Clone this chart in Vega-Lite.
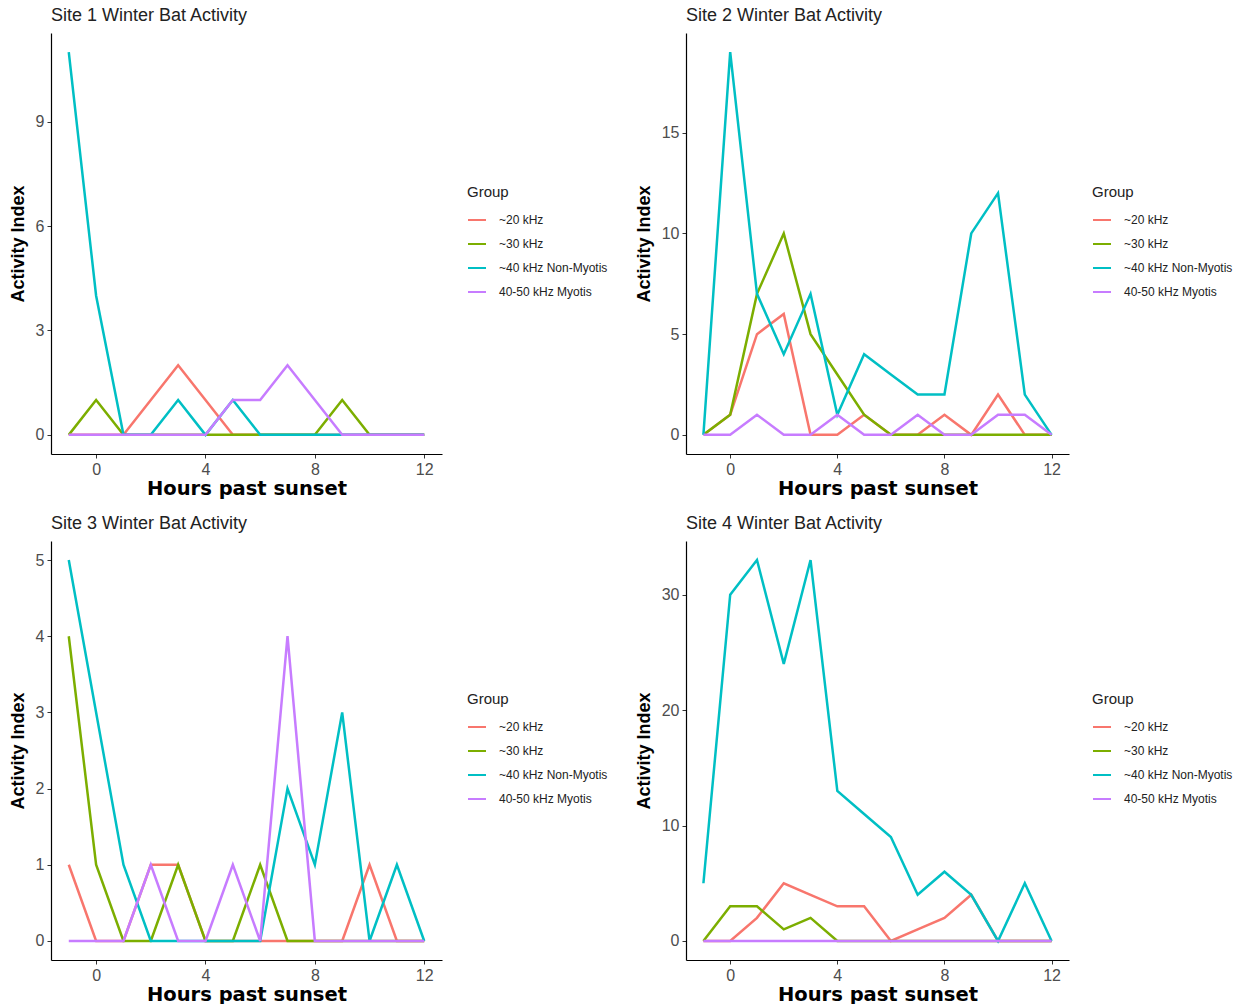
{
  "$schema": "https://vega.github.io/schema/vega-lite/v6.json",
  "background": "white",
  "padding": {"left": 9, "top": 7, "right": 0, "bottom": 0},
  "columns": 2,
  "spacing": {"row": 17, "column": 27},
  "data": {"values": [
    {"site":1,"group":"~20 kHz","hour":-1,"value":0},{"site":1,"group":"~20 kHz","hour":0,"value":0},{"site":1,"group":"~20 kHz","hour":1,"value":0},{"site":1,"group":"~20 kHz","hour":2,"value":1},{"site":1,"group":"~20 kHz","hour":3,"value":2},{"site":1,"group":"~20 kHz","hour":4,"value":1},{"site":1,"group":"~20 kHz","hour":5,"value":0},{"site":1,"group":"~20 kHz","hour":6,"value":0},{"site":1,"group":"~20 kHz","hour":7,"value":0},{"site":1,"group":"~20 kHz","hour":8,"value":0},{"site":1,"group":"~20 kHz","hour":9,"value":0},{"site":1,"group":"~20 kHz","hour":10,"value":0},{"site":1,"group":"~20 kHz","hour":11,"value":0},{"site":1,"group":"~20 kHz","hour":12,"value":0},
    {"site":1,"group":"~30 kHz","hour":-1,"value":0},{"site":1,"group":"~30 kHz","hour":0,"value":1},{"site":1,"group":"~30 kHz","hour":1,"value":0},{"site":1,"group":"~30 kHz","hour":2,"value":0},{"site":1,"group":"~30 kHz","hour":3,"value":0},{"site":1,"group":"~30 kHz","hour":4,"value":0},{"site":1,"group":"~30 kHz","hour":5,"value":0},{"site":1,"group":"~30 kHz","hour":6,"value":0},{"site":1,"group":"~30 kHz","hour":7,"value":0},{"site":1,"group":"~30 kHz","hour":8,"value":0},{"site":1,"group":"~30 kHz","hour":9,"value":1},{"site":1,"group":"~30 kHz","hour":10,"value":0},{"site":1,"group":"~30 kHz","hour":11,"value":0},{"site":1,"group":"~30 kHz","hour":12,"value":0},
    {"site":1,"group":"~40 kHz Non-Myotis","hour":-1,"value":11},{"site":1,"group":"~40 kHz Non-Myotis","hour":0,"value":4},{"site":1,"group":"~40 kHz Non-Myotis","hour":1,"value":0},{"site":1,"group":"~40 kHz Non-Myotis","hour":2,"value":0},{"site":1,"group":"~40 kHz Non-Myotis","hour":3,"value":1},{"site":1,"group":"~40 kHz Non-Myotis","hour":4,"value":0},{"site":1,"group":"~40 kHz Non-Myotis","hour":5,"value":1},{"site":1,"group":"~40 kHz Non-Myotis","hour":6,"value":0},{"site":1,"group":"~40 kHz Non-Myotis","hour":7,"value":0},{"site":1,"group":"~40 kHz Non-Myotis","hour":8,"value":0},{"site":1,"group":"~40 kHz Non-Myotis","hour":9,"value":0},{"site":1,"group":"~40 kHz Non-Myotis","hour":10,"value":0},{"site":1,"group":"~40 kHz Non-Myotis","hour":11,"value":0},{"site":1,"group":"~40 kHz Non-Myotis","hour":12,"value":0},
    {"site":1,"group":"40-50 kHz Myotis","hour":-1,"value":0},{"site":1,"group":"40-50 kHz Myotis","hour":0,"value":0},{"site":1,"group":"40-50 kHz Myotis","hour":1,"value":0},{"site":1,"group":"40-50 kHz Myotis","hour":2,"value":0},{"site":1,"group":"40-50 kHz Myotis","hour":3,"value":0},{"site":1,"group":"40-50 kHz Myotis","hour":4,"value":0},{"site":1,"group":"40-50 kHz Myotis","hour":5,"value":1},{"site":1,"group":"40-50 kHz Myotis","hour":6,"value":1},{"site":1,"group":"40-50 kHz Myotis","hour":7,"value":2},{"site":1,"group":"40-50 kHz Myotis","hour":8,"value":1},{"site":1,"group":"40-50 kHz Myotis","hour":9,"value":0},{"site":1,"group":"40-50 kHz Myotis","hour":10,"value":0},{"site":1,"group":"40-50 kHz Myotis","hour":11,"value":0},{"site":1,"group":"40-50 kHz Myotis","hour":12,"value":0},

    {"site":2,"group":"~20 kHz","hour":-1,"value":0},{"site":2,"group":"~20 kHz","hour":0,"value":1},{"site":2,"group":"~20 kHz","hour":1,"value":5},{"site":2,"group":"~20 kHz","hour":2,"value":6},{"site":2,"group":"~20 kHz","hour":3,"value":0},{"site":2,"group":"~20 kHz","hour":4,"value":0},{"site":2,"group":"~20 kHz","hour":5,"value":1},{"site":2,"group":"~20 kHz","hour":6,"value":0},{"site":2,"group":"~20 kHz","hour":7,"value":0},{"site":2,"group":"~20 kHz","hour":8,"value":1},{"site":2,"group":"~20 kHz","hour":9,"value":0},{"site":2,"group":"~20 kHz","hour":10,"value":2},{"site":2,"group":"~20 kHz","hour":11,"value":0},{"site":2,"group":"~20 kHz","hour":12,"value":0},
    {"site":2,"group":"~30 kHz","hour":-1,"value":0},{"site":2,"group":"~30 kHz","hour":0,"value":1},{"site":2,"group":"~30 kHz","hour":1,"value":7},{"site":2,"group":"~30 kHz","hour":2,"value":10},{"site":2,"group":"~30 kHz","hour":3,"value":5},{"site":2,"group":"~30 kHz","hour":4,"value":3},{"site":2,"group":"~30 kHz","hour":5,"value":1},{"site":2,"group":"~30 kHz","hour":6,"value":0},{"site":2,"group":"~30 kHz","hour":7,"value":0},{"site":2,"group":"~30 kHz","hour":8,"value":0},{"site":2,"group":"~30 kHz","hour":9,"value":0},{"site":2,"group":"~30 kHz","hour":10,"value":0},{"site":2,"group":"~30 kHz","hour":11,"value":0},{"site":2,"group":"~30 kHz","hour":12,"value":0},
    {"site":2,"group":"~40 kHz Non-Myotis","hour":-1,"value":0},{"site":2,"group":"~40 kHz Non-Myotis","hour":0,"value":19},{"site":2,"group":"~40 kHz Non-Myotis","hour":1,"value":7},{"site":2,"group":"~40 kHz Non-Myotis","hour":2,"value":4},{"site":2,"group":"~40 kHz Non-Myotis","hour":3,"value":7},{"site":2,"group":"~40 kHz Non-Myotis","hour":4,"value":1},{"site":2,"group":"~40 kHz Non-Myotis","hour":5,"value":4},{"site":2,"group":"~40 kHz Non-Myotis","hour":6,"value":3},{"site":2,"group":"~40 kHz Non-Myotis","hour":7,"value":2},{"site":2,"group":"~40 kHz Non-Myotis","hour":8,"value":2},{"site":2,"group":"~40 kHz Non-Myotis","hour":9,"value":10},{"site":2,"group":"~40 kHz Non-Myotis","hour":10,"value":12},{"site":2,"group":"~40 kHz Non-Myotis","hour":11,"value":2},{"site":2,"group":"~40 kHz Non-Myotis","hour":12,"value":0},
    {"site":2,"group":"40-50 kHz Myotis","hour":-1,"value":0},{"site":2,"group":"40-50 kHz Myotis","hour":0,"value":0},{"site":2,"group":"40-50 kHz Myotis","hour":1,"value":1},{"site":2,"group":"40-50 kHz Myotis","hour":2,"value":0},{"site":2,"group":"40-50 kHz Myotis","hour":3,"value":0},{"site":2,"group":"40-50 kHz Myotis","hour":4,"value":1},{"site":2,"group":"40-50 kHz Myotis","hour":5,"value":0},{"site":2,"group":"40-50 kHz Myotis","hour":6,"value":0},{"site":2,"group":"40-50 kHz Myotis","hour":7,"value":1},{"site":2,"group":"40-50 kHz Myotis","hour":8,"value":0},{"site":2,"group":"40-50 kHz Myotis","hour":9,"value":0},{"site":2,"group":"40-50 kHz Myotis","hour":10,"value":1},{"site":2,"group":"40-50 kHz Myotis","hour":11,"value":1},{"site":2,"group":"40-50 kHz Myotis","hour":12,"value":0},

    {"site":3,"group":"~20 kHz","hour":-1,"value":1},{"site":3,"group":"~20 kHz","hour":0,"value":0},{"site":3,"group":"~20 kHz","hour":1,"value":0},{"site":3,"group":"~20 kHz","hour":2,"value":1},{"site":3,"group":"~20 kHz","hour":3,"value":1},{"site":3,"group":"~20 kHz","hour":4,"value":0},{"site":3,"group":"~20 kHz","hour":5,"value":0},{"site":3,"group":"~20 kHz","hour":6,"value":0},{"site":3,"group":"~20 kHz","hour":7,"value":0},{"site":3,"group":"~20 kHz","hour":8,"value":0},{"site":3,"group":"~20 kHz","hour":9,"value":0},{"site":3,"group":"~20 kHz","hour":10,"value":1},{"site":3,"group":"~20 kHz","hour":11,"value":0},{"site":3,"group":"~20 kHz","hour":12,"value":0},
    {"site":3,"group":"~30 kHz","hour":-1,"value":4},{"site":3,"group":"~30 kHz","hour":0,"value":1},{"site":3,"group":"~30 kHz","hour":1,"value":0},{"site":3,"group":"~30 kHz","hour":2,"value":0},{"site":3,"group":"~30 kHz","hour":3,"value":1},{"site":3,"group":"~30 kHz","hour":4,"value":0},{"site":3,"group":"~30 kHz","hour":5,"value":0},{"site":3,"group":"~30 kHz","hour":6,"value":1},{"site":3,"group":"~30 kHz","hour":7,"value":0},{"site":3,"group":"~30 kHz","hour":8,"value":0},{"site":3,"group":"~30 kHz","hour":9,"value":0},{"site":3,"group":"~30 kHz","hour":10,"value":0},{"site":3,"group":"~30 kHz","hour":11,"value":0},{"site":3,"group":"~30 kHz","hour":12,"value":0},
    {"site":3,"group":"~40 kHz Non-Myotis","hour":-1,"value":5},{"site":3,"group":"~40 kHz Non-Myotis","hour":0,"value":3},{"site":3,"group":"~40 kHz Non-Myotis","hour":1,"value":1},{"site":3,"group":"~40 kHz Non-Myotis","hour":2,"value":0},{"site":3,"group":"~40 kHz Non-Myotis","hour":3,"value":0},{"site":3,"group":"~40 kHz Non-Myotis","hour":4,"value":0},{"site":3,"group":"~40 kHz Non-Myotis","hour":5,"value":0},{"site":3,"group":"~40 kHz Non-Myotis","hour":6,"value":0},{"site":3,"group":"~40 kHz Non-Myotis","hour":7,"value":2},{"site":3,"group":"~40 kHz Non-Myotis","hour":8,"value":1},{"site":3,"group":"~40 kHz Non-Myotis","hour":9,"value":3},{"site":3,"group":"~40 kHz Non-Myotis","hour":10,"value":0},{"site":3,"group":"~40 kHz Non-Myotis","hour":11,"value":1},{"site":3,"group":"~40 kHz Non-Myotis","hour":12,"value":0},
    {"site":3,"group":"40-50 kHz Myotis","hour":-1,"value":0},{"site":3,"group":"40-50 kHz Myotis","hour":0,"value":0},{"site":3,"group":"40-50 kHz Myotis","hour":1,"value":0},{"site":3,"group":"40-50 kHz Myotis","hour":2,"value":1},{"site":3,"group":"40-50 kHz Myotis","hour":3,"value":0},{"site":3,"group":"40-50 kHz Myotis","hour":4,"value":0},{"site":3,"group":"40-50 kHz Myotis","hour":5,"value":1},{"site":3,"group":"40-50 kHz Myotis","hour":6,"value":0},{"site":3,"group":"40-50 kHz Myotis","hour":7,"value":4},{"site":3,"group":"40-50 kHz Myotis","hour":8,"value":0},{"site":3,"group":"40-50 kHz Myotis","hour":9,"value":0},{"site":3,"group":"40-50 kHz Myotis","hour":10,"value":0},{"site":3,"group":"40-50 kHz Myotis","hour":11,"value":0},{"site":3,"group":"40-50 kHz Myotis","hour":12,"value":0},

    {"site":4,"group":"~20 kHz","hour":-1,"value":0},{"site":4,"group":"~20 kHz","hour":0,"value":0},{"site":4,"group":"~20 kHz","hour":1,"value":2},{"site":4,"group":"~20 kHz","hour":2,"value":5},{"site":4,"group":"~20 kHz","hour":3,"value":4},{"site":4,"group":"~20 kHz","hour":4,"value":3},{"site":4,"group":"~20 kHz","hour":5,"value":3},{"site":4,"group":"~20 kHz","hour":6,"value":0},{"site":4,"group":"~20 kHz","hour":7,"value":1},{"site":4,"group":"~20 kHz","hour":8,"value":2},{"site":4,"group":"~20 kHz","hour":9,"value":4},{"site":4,"group":"~20 kHz","hour":10,"value":0},{"site":4,"group":"~20 kHz","hour":11,"value":0},{"site":4,"group":"~20 kHz","hour":12,"value":0},
    {"site":4,"group":"~30 kHz","hour":-1,"value":0},{"site":4,"group":"~30 kHz","hour":0,"value":3},{"site":4,"group":"~30 kHz","hour":1,"value":3},{"site":4,"group":"~30 kHz","hour":2,"value":1},{"site":4,"group":"~30 kHz","hour":3,"value":2},{"site":4,"group":"~30 kHz","hour":4,"value":0},{"site":4,"group":"~30 kHz","hour":5,"value":0},{"site":4,"group":"~30 kHz","hour":6,"value":0},{"site":4,"group":"~30 kHz","hour":7,"value":0},{"site":4,"group":"~30 kHz","hour":8,"value":0},{"site":4,"group":"~30 kHz","hour":9,"value":0},{"site":4,"group":"~30 kHz","hour":10,"value":0},{"site":4,"group":"~30 kHz","hour":11,"value":0},{"site":4,"group":"~30 kHz","hour":12,"value":0},
    {"site":4,"group":"~40 kHz Non-Myotis","hour":-1,"value":5},{"site":4,"group":"~40 kHz Non-Myotis","hour":0,"value":30},{"site":4,"group":"~40 kHz Non-Myotis","hour":1,"value":33},{"site":4,"group":"~40 kHz Non-Myotis","hour":2,"value":24},{"site":4,"group":"~40 kHz Non-Myotis","hour":3,"value":33},{"site":4,"group":"~40 kHz Non-Myotis","hour":4,"value":13},{"site":4,"group":"~40 kHz Non-Myotis","hour":5,"value":11},{"site":4,"group":"~40 kHz Non-Myotis","hour":6,"value":9},{"site":4,"group":"~40 kHz Non-Myotis","hour":7,"value":4},{"site":4,"group":"~40 kHz Non-Myotis","hour":8,"value":6},{"site":4,"group":"~40 kHz Non-Myotis","hour":9,"value":4},{"site":4,"group":"~40 kHz Non-Myotis","hour":10,"value":0},{"site":4,"group":"~40 kHz Non-Myotis","hour":11,"value":5},{"site":4,"group":"~40 kHz Non-Myotis","hour":12,"value":0},
    {"site":4,"group":"40-50 kHz Myotis","hour":-1,"value":0},{"site":4,"group":"40-50 kHz Myotis","hour":0,"value":0},{"site":4,"group":"40-50 kHz Myotis","hour":1,"value":0},{"site":4,"group":"40-50 kHz Myotis","hour":2,"value":0},{"site":4,"group":"40-50 kHz Myotis","hour":3,"value":0},{"site":4,"group":"40-50 kHz Myotis","hour":4,"value":0},{"site":4,"group":"40-50 kHz Myotis","hour":5,"value":0},{"site":4,"group":"40-50 kHz Myotis","hour":6,"value":0},{"site":4,"group":"40-50 kHz Myotis","hour":7,"value":0},{"site":4,"group":"40-50 kHz Myotis","hour":8,"value":0},{"site":4,"group":"40-50 kHz Myotis","hour":9,"value":0},{"site":4,"group":"40-50 kHz Myotis","hour":10,"value":0},{"site":4,"group":"40-50 kHz Myotis","hour":11,"value":0},{"site":4,"group":"40-50 kHz Myotis","hour":12,"value":0}
  ]},
  "resolve": {"scale": {"x": "independent", "y": "independent"}, "legend": {"color": "independent"}},
  "concat": [
    {
      "title": "Site 1 Winter Bat Activity",
      "width": 391, "height": 421,
      "transform": [{"filter": "datum.site == 1"}],
      "mark": {"type": "line", "strokeWidth": 2.5},
      "encoding": {
        "x": {"field": "hour", "type": "quantitative", "title": "Hours past sunset", "scale": {"domain": [-1.65, 12.65], "nice": false, "zero": false}, "axis": {"values": [0, 4, 8, 12]}},
        "y": {"field": "value", "type": "quantitative", "title": "Activity Index", "scale": {"domain": [-0.55, 11.55], "nice": false, "zero": false}, "axis": {"values": [0, 3, 6, 9]}},
        "color": {"field": "group", "type": "nominal", "title": "Group", "scale": {"domain": ["~20 kHz", "~30 kHz", "~40 kHz Non-Myotis", "40-50 kHz Myotis"], "range": ["#F8766D", "#7CAE00", "#00BFC4", "#C77CFF"]}, "legend": {"orient": "none", "legendX": 416, "legendY": 152}}
      }
    },
    {
      "title": "Site 2 Winter Bat Activity",
      "width": 383, "height": 421,
      "transform": [{"filter": "datum.site == 2"}],
      "mark": {"type": "line", "strokeWidth": 2.5},
      "encoding": {
        "x": {"field": "hour", "type": "quantitative", "title": "Hours past sunset", "scale": {"domain": [-1.65, 12.65], "nice": false, "zero": false}, "axis": {"values": [0, 4, 8, 12]}},
        "y": {"field": "value", "type": "quantitative", "title": "Activity Index", "scale": {"domain": [-0.95, 19.95], "nice": false, "zero": false}, "axis": {"values": [0, 5, 10, 15]}},
        "color": {"field": "group", "type": "nominal", "title": "Group", "scale": {"domain": ["~20 kHz", "~30 kHz", "~40 kHz Non-Myotis", "40-50 kHz Myotis"], "range": ["#F8766D", "#7CAE00", "#00BFC4", "#C77CFF"]}, "legend": {"orient": "none", "legendX": 406, "legendY": 152}}
      }
    },
    {
      "title": "Site 3 Winter Bat Activity",
      "width": 391, "height": 419,
      "transform": [{"filter": "datum.site == 3"}],
      "mark": {"type": "line", "strokeWidth": 2.5},
      "encoding": {
        "x": {"field": "hour", "type": "quantitative", "title": "Hours past sunset", "scale": {"domain": [-1.65, 12.65], "nice": false, "zero": false}, "axis": {"values": [0, 4, 8, 12]}},
        "y": {"field": "value", "type": "quantitative", "title": "Activity Index", "scale": {"domain": [-0.25, 5.25], "nice": false, "zero": false}, "axis": {"values": [0, 1, 2, 3, 4, 5]}},
        "color": {"field": "group", "type": "nominal", "title": "Group", "scale": {"domain": ["~20 kHz", "~30 kHz", "~40 kHz Non-Myotis", "40-50 kHz Myotis"], "range": ["#F8766D", "#7CAE00", "#00BFC4", "#C77CFF"]}, "legend": {"orient": "none", "legendX": 416, "legendY": 151}}
      }
    },
    {
      "title": "Site 4 Winter Bat Activity",
      "width": 383, "height": 419,
      "transform": [{"filter": "datum.site == 4"}],
      "mark": {"type": "line", "strokeWidth": 2.5},
      "encoding": {
        "x": {"field": "hour", "type": "quantitative", "title": "Hours past sunset", "scale": {"domain": [-1.65, 12.65], "nice": false, "zero": false}, "axis": {"values": [0, 4, 8, 12]}},
        "y": {"field": "value", "type": "quantitative", "title": "Activity Index", "scale": {"domain": [-1.65, 34.65], "nice": false, "zero": false}, "axis": {"values": [0, 10, 20, 30]}},
        "color": {"field": "group", "type": "nominal", "title": "Group", "scale": {"domain": ["~20 kHz", "~30 kHz", "~40 kHz Non-Myotis", "40-50 kHz Myotis"], "range": ["#F8766D", "#7CAE00", "#00BFC4", "#C77CFF"]}, "legend": {"orient": "none", "legendX": 406, "legendY": 151}}
      }
    }
  ],
  "config": {
    "font": "Liberation Sans",
    "view": {"stroke": null},
    "title": {"anchor": "start", "frame": "group", "fontSize": 18, "fontWeight": "normal", "color": "#222222", "font": "Liberation Sans", "offset": 8},
    "axis": {"grid": false, "domainColor": "#000000", "domainWidth": 1.2, "tickColor": "#333333", "tickSize": 4, "labelColor": "#4D4D4D", "labelFontSize": 16, "labelFont": "Liberation Sans", "labelPadding": 3, "titleColor": "#000000"},
    "axisX": {"titleFont": "DejaVu Sans", "titleFontSize": 19.5, "titleFontWeight": "bold", "titlePadding": 2},
    "axisY": {"titleFont": "Liberation Sans", "titleFontSize": 18, "titleFontWeight": "bold", "titlePadding": 8},
    "legend": {"titleFontSize": 15, "titleFontWeight": "normal", "titleColor": "#222222", "labelFontSize": 12, "labelColor": "#222222", "symbolType": "stroke", "symbolSize": 324, "symbolStrokeWidth": 2, "rowPadding": 8, "labelOffset": 12, "titlePadding": 10}
  }
}
